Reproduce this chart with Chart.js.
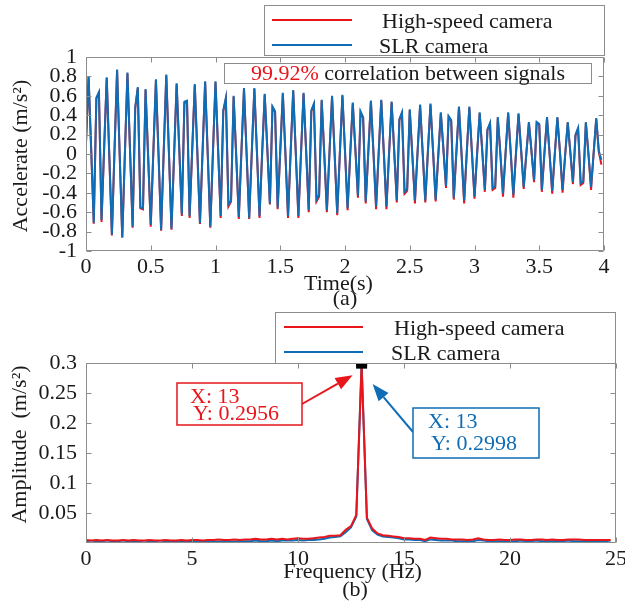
<!DOCTYPE html>
<html>
<head>
<meta charset="utf-8">
<script src="https://cdn.jsdelivr.net/npm/chart.js@4.4.1/dist/chart.umd.min.js"></script>
<style>
  html, body { margin: 0; padding: 0; background: #fff; }
  #wrap { position: relative; width: 625px; height: 601px; overflow: hidden; }
  canvas { position: absolute; left: 0; }
</style>
</head>
<body>
<div id="wrap">
  <canvas id="timeChart" width="625" height="310" style="top:0"></canvas>
  <canvas id="freqChart" width="625" height="291" style="top:310px"></canvas>
</div>
<script>
// ---- data -------------------------------------------------------------
const SERIES_NAMES = ['High-speed camera', 'SLR camera'];

// acceleration samples, 50 Hz, starting at t = 0 s
const SAMPLE_INTERVAL = 0.02;
const highSpeedAccel = [
  0.12, 0.79, 0.05, -0.72, 0.57, 0.63, -0.70, 0.06, 0.78, -0.02,
  -0.84, 0.03, 0.86, 0.00, -0.86, -0.01, 0.83, 0.04, -0.76, 0.47,
  0.68, -0.56, -0.57, 0.66, -0.03, -0.75, 0.02, 0.76, 0.00, -0.79,
  0.02, 0.81, 0.03, -0.78, -0.02, 0.72, 0.06, -0.64, 0.53, 0.54,
  -0.66, 0.04, 0.71, 0.01, -0.72, 0.02, 0.74, 0.00, -0.76, 0.01,
  0.74, 0.05, -0.66, 0.44, 0.57, -0.54, -0.49, 0.59, -0.02, -0.67,
  0.02, 0.67, 0.01, -0.67, 0.01, 0.67, 0.02, -0.66, 0.00, 0.61,
  0.06, -0.52, 0.48, 0.43, -0.57, 0.03, 0.62, 0.00, -0.66, 0.01,
  0.65, 0.01, -0.66, 0.00, 0.62, 0.03, -0.60, 0.44, 0.51, -0.49,
  -0.44, 0.55, 0.00, -0.60, 0.01, 0.59, 0.00, -0.63, 0.00, 0.60,
  0.03, -0.58, -0.01, 0.52, 0.05, -0.45, 0.43, 0.37, -0.51, 0.02,
  0.54, 0.01, -0.57, 0.01, 0.55, 0.01, -0.57, 0.00, 0.53, 0.03,
  -0.50, 0.35, 0.42, -0.41, -0.38, 0.45, -0.01, -0.51, 0.01, 0.50,
  0.01, -0.50, 0.02, 0.51, 0.03, -0.49, -0.02, 0.42, 0.05, -0.35,
  0.38, 0.34, -0.47, 0.02, 0.48, 0.00, -0.51, 0.01, 0.48, 0.02,
  -0.46, 0.00, 0.42, 0.03, -0.39, 0.25, 0.31, -0.37, -0.35, 0.37,
  0.00, -0.44, 0.01, 0.42, 0.01, -0.45, 0.00, 0.41, 0.04, -0.36,
  0.00, 0.32, 0.03, -0.29, 0.32, 0.30, -0.39, 0.01, 0.37, 0.00,
  -0.41, 0.00, 0.37, 0.02, -0.40, -0.01, 0.32, 0.02, -0.31, 0.19,
  0.26, -0.32, -0.30, 0.32, 0.00, -0.37, 0.01, 0.36, 0.02, -0.11
];
const slrAccel = [
  0.12, 0.80, 0.05, -0.71, 0.58, 0.64, -0.68, 0.06, 0.79, -0.02,
  -0.83, 0.03, 0.87, 0.00, -0.86, -0.01, 0.84, 0.04, -0.75, 0.48,
  0.69, -0.55, -0.56, 0.67, -0.03, -0.73, 0.02, 0.77, 0.00, -0.78,
  0.02, 0.82, 0.03, -0.77, -0.02, 0.73, 0.06, -0.62, 0.54, 0.55,
  -0.64, 0.04, 0.72, 0.01, -0.71, 0.02, 0.75, 0.00, -0.75, 0.01,
  0.75, 0.05, -0.64, 0.45, 0.58, -0.52, -0.48, 0.60, -0.02, -0.65,
  0.02, 0.68, 0.01, -0.66, 0.01, 0.68, 0.02, -0.64, 0.00, 0.62,
  0.06, -0.51, 0.49, 0.44, -0.55, 0.03, 0.63, 0.00, -0.64, 0.01,
  0.66, 0.01, -0.64, 0.00, 0.63, 0.03, -0.58, 0.45, 0.52, -0.47,
  -0.42, 0.56, 0.00, -0.58, 0.01, 0.60, 0.00, -0.61, 0.00, 0.61,
  0.03, -0.56, -0.01, 0.53, 0.05, -0.43, 0.44, 0.38, -0.49, 0.02,
  0.55, 0.01, -0.54, 0.01, 0.56, 0.01, -0.54, 0.00, 0.54, 0.03,
  -0.48, 0.36, 0.43, -0.39, -0.36, 0.46, -0.01, -0.48, 0.01, 0.51,
  0.01, -0.48, 0.02, 0.52, 0.03, -0.47, -0.02, 0.43, 0.05, -0.33,
  0.39, 0.35, -0.45, 0.02, 0.49, 0.00, -0.48, 0.01, 0.49, 0.02,
  -0.44, 0.00, 0.43, 0.03, -0.37, 0.25, 0.32, -0.35, -0.33, 0.38,
  0.00, -0.41, 0.01, 0.43, 0.01, -0.42, 0.00, 0.42, 0.04, -0.34,
  0.00, 0.33, 0.03, -0.27, 0.33, 0.31, -0.37, 0.01, 0.38, 0.00,
  -0.38, 0.00, 0.38, 0.02, -0.37, -0.01, 0.33, 0.02, -0.29, 0.20,
  0.27, -0.30, -0.28, 0.33, 0.00, -0.34, 0.01, 0.37, 0.03, -0.06
];
const timeTicks = [0, 0.5, 1, 1.5, 2, 2.5, 3, 3.5, 4];
const accelTicks = [-1, -0.8, -0.6, -0.4, -0.2, 0, 0.2, 0.4, 0.6, 0.8, 1];
const CORRELATION_TEXT = ['99.92%', ' correlation between signals'];

// single-sided amplitude spectrum, 0.25 Hz bins starting at 0 Hz
const FREQ_STEP = 0.25;
const highSpeedAmp = [
  0.005, 0.004, 0.005, 0.004, 0.005, 0.004, 0.004, 0.005, 0.004, 0.005,
  0.004, 0.004, 0.005, 0.004, 0.004, 0.005, 0.004, 0.004, 0.005, 0.004,
  0.005, 0.005, 0.004, 0.005, 0.005, 0.006, 0.005, 0.005, 0.006, 0.005,
  0.006, 0.006, 0.007, 0.006, 0.006, 0.007, 0.006, 0.007, 0.006, 0.007,
  0.008, 0.007, 0.007, 0.008, 0.009, 0.010, 0.012, 0.012, 0.013, 0.022,
  0.028, 0.047, 0.2956, 0.042, 0.024, 0.016, 0.013, 0.012, 0.011, 0.010,
  0.008, 0.008, 0.007, 0.007, 0.005, 0.009, 0.008, 0.007, 0.007, 0.006,
  0.006, 0.006, 0.005, 0.006, 0.008, 0.006, 0.005, 0.005, 0.006, 0.005,
  0.005, 0.006, 0.006, 0.005, 0.005, 0.006, 0.006, 0.005, 0.006, 0.005,
  0.005, 0.006, 0.006, 0.006, 0.005, 0.005, 0.005, 0.005, 0.005, 0.005
];
const slrAmp = [
  0.002, 0.001, 0.002, 0.002, 0.001, 0.002, 0.002, 0.001, 0.002, 0.002,
  0.002, 0.001, 0.002, 0.002, 0.001, 0.002, 0.002, 0.002, 0.003, 0.002,
  0.002, 0.003, 0.002, 0.003, 0.003, 0.002, 0.003, 0.003, 0.002, 0.003,
  0.003, 0.003, 0.004, 0.003, 0.003, 0.004, 0.003, 0.004, 0.004, 0.004,
  0.005, 0.004, 0.005, 0.005, 0.006, 0.007, 0.009, 0.010, 0.011, 0.018,
  0.026, 0.044, 0.2998, 0.040, 0.021, 0.014, 0.011, 0.010, 0.009, 0.008,
  0.006, 0.006, 0.005, 0.005, 0.003, 0.006, 0.005, 0.004, 0.004, 0.004,
  0.003, 0.003, 0.003, 0.003, 0.005, 0.004, 0.003, 0.003, 0.003, 0.003,
  0.003, 0.003, 0.004, 0.003, 0.003, 0.004, 0.003, 0.003, 0.003, 0.003,
  0.003, 0.004, 0.003, 0.003, 0.003, 0.003, 0.003, 0.003, 0.002, 0.001
];
const freqTicks = [0, 5, 10, 15, 20, 25];
const ampTicks = [0.05, 0.1, 0.15, 0.2, 0.25, 0.3];
// data tips at the spectral peak of each series
const peakTips = [
  { series: 0, x: 13, y: 0.2956 },
  { series: 1, x: 13, y: 0.2998 }
];

// ---- styling ----------------------------------------------------------
const RED = '#e8151b';
const BLUE = '#0f6db5';
const FRAME = '#8c8c8c';
const INK = '#1a1a1a';
const FAMILY = '"Liberation Serif", "Times New Roman", serif';
const FONT = '22px ' + FAMILY;
const tickFont = { family: FAMILY, size: 22 };

const fmt = v => String(+Number(v).toFixed(3));
const asPoints = (arr, step) => arr.map((v, i) => ({ x: i * step, y: v }));

function frameAndTicks(chart, xt, yt) {
  const { ctx, chartArea: a, scales: { x, y } } = chart;
  const L = Math.round(a.left) + 0.5, R = Math.round(a.right) - 0.5;
  const T = Math.round(a.top) + 0.5, B = Math.round(a.bottom) - 0.5;
  const len = 5;
  ctx.save();
  ctx.strokeStyle = FRAME;
  ctx.lineWidth = 1;
  ctx.beginPath();
  ctx.rect(L, T, R - L, B - T);
  xt.forEach(v => {
    const px = Math.round(x.getPixelForValue(v)) + 0.5;
    ctx.moveTo(px, B); ctx.lineTo(px, B - len);
    ctx.moveTo(px, T); ctx.lineTo(px, T + len);
  });
  yt.forEach(v => {
    const py = Math.round(y.getPixelForValue(v)) + 0.5;
    ctx.moveTo(L, py); ctx.lineTo(L + len, py);
    ctx.moveTo(R, py); ctx.lineTo(R - len, py);
  });
  ctx.stroke();
  ctx.restore();
}

function legendBox(ctx, box, rows) {
  ctx.save();
  ctx.fillStyle = '#fff';
  ctx.fillRect(box.x0, box.y0, box.x1 - box.x0, box.y1 - box.y0);
  ctx.strokeStyle = FRAME;
  ctx.lineWidth = 1;
  ctx.strokeRect(box.x0 + 0.5, box.y0 + 0.5, box.x1 - box.x0 - 1, box.y1 - box.y0 - 1);
  ctx.font = FONT;
  ctx.textBaseline = 'alphabetic';
  ctx.textAlign = 'left';
  rows.forEach(r => {
    ctx.strokeStyle = r.color;
    ctx.lineWidth = 2;
    ctx.beginPath();
    ctx.moveTo(r.lx0, r.ly); ctx.lineTo(r.lx1, r.ly);
    ctx.stroke();
    ctx.fillStyle = INK;
    ctx.fillText(r.text, r.tx, r.ty);
  });
  ctx.restore();
}

function yTitle(ctx, text, cx, cy) {
  ctx.save();
  ctx.translate(cx, cy);
  ctx.rotate(-Math.PI / 2);
  ctx.font = FONT;
  ctx.fillStyle = INK;
  ctx.textAlign = 'center';
  ctx.textBaseline = 'alphabetic';
  ctx.fillText(text, 0, 0);
  ctx.restore();
}

function centeredText(ctx, text, cx, by) {
  ctx.save();
  ctx.font = FONT;
  ctx.fillStyle = INK;
  ctx.textAlign = 'center';
  ctx.textBaseline = 'alphabetic';
  ctx.fillText(text, cx, by);
  ctx.restore();
}

function arrow(ctx, x0, y0, x1, y1, color) {
  const headLen = 17, headW = 13;
  const ang = Math.atan2(y1 - y0, x1 - x0);
  const bx = x1 - headLen * Math.cos(ang), by = y1 - headLen * Math.sin(ang);
  ctx.save();
  ctx.strokeStyle = color;
  ctx.fillStyle = color;
  ctx.lineWidth = 2;
  ctx.beginPath();
  ctx.moveTo(x0, y0); ctx.lineTo(bx, by);
  ctx.stroke();
  ctx.beginPath();
  ctx.moveTo(x1, y1);
  ctx.lineTo(bx + headW / 2 * Math.sin(ang), by - headW / 2 * Math.cos(ang));
  ctx.lineTo(bx - headW / 2 * Math.sin(ang), by + headW / 2 * Math.cos(ang));
  ctx.closePath();
  ctx.fill();
  ctx.restore();
}

function tipBox(ctx, box, color, lines) {
  ctx.save();
  ctx.fillStyle = '#fff';
  ctx.fillRect(box.x0, box.y0, box.x1 - box.x0, box.y1 - box.y0);
  ctx.strokeStyle = color;
  ctx.lineWidth = 1.5;
  ctx.strokeRect(box.x0, box.y0, box.x1 - box.x0, box.y1 - box.y0);
  ctx.font = FONT;
  ctx.fillStyle = color;
  ctx.textAlign = 'left';
  ctx.textBaseline = 'alphabetic';
  lines.forEach(l => ctx.fillText(l.text, l.x, l.y));
  ctx.restore();
}

// ---- (a) time history -------------------------------------------------
const timeDecor = {
  id: 'timeDecor',
  afterDatasetsDraw(chart) {
    const ctx = chart.ctx;
    frameAndTicks(chart, timeTicks, accelTicks);

    // correlation note
    ctx.save();
    const nb = { x0: 224, y0: 63, x1: 592, y1: 84 };
    ctx.fillStyle = '#fff';
    ctx.fillRect(nb.x0, nb.y0, nb.x1 - nb.x0, nb.y1 - nb.y0);
    ctx.strokeStyle = FRAME;
    ctx.lineWidth = 1;
    ctx.strokeRect(nb.x0 + 0.5, nb.y0 + 0.5, nb.x1 - nb.x0 - 1, nb.y1 - nb.y0 - 1);
    ctx.font = FONT;
    ctx.textBaseline = 'alphabetic';
    ctx.textAlign = 'left';
    const w0 = ctx.measureText(CORRELATION_TEXT[0]).width;
    const w1 = ctx.measureText(CORRELATION_TEXT[1]).width;
    let tx = (nb.x0 + nb.x1) / 2 - (w0 + w1) / 2;
    ctx.fillStyle = RED;
    ctx.fillText(CORRELATION_TEXT[0], tx, 80);
    ctx.fillStyle = INK;
    ctx.fillText(CORRELATION_TEXT[1], tx + w0, 80);
    ctx.restore();

    legendBox(ctx, { x0: 264, y0: 5, x1: 605, y1: 56 }, [
      { color: RED, lx0: 272, lx1: 352, ly: 20, text: SERIES_NAMES[0], tx: 382, ty: 27.5 },
      { color: BLUE, lx0: 272, lx1: 352, ly: 45, text: SERIES_NAMES[1], tx: 379, ty: 53 }
    ]);

    yTitle(ctx, 'Accelerate (m/s²)', 26.5, 156);
    centeredText(ctx, 'Time(s)', 338.5, 290);
    centeredText(ctx, '(a)', 345, 305);
  }
};

new Chart(document.getElementById('timeChart'), {
  type: 'line',
  data: {
    datasets: [
      { label: SERIES_NAMES[0], data: asPoints(highSpeedAccel, SAMPLE_INTERVAL),
        borderColor: RED, borderWidth: 2, pointRadius: 0, tension: 0, order: 1 },
      { label: SERIES_NAMES[1], data: asPoints(slrAccel, SAMPLE_INTERVAL),
        borderColor: BLUE, borderWidth: 2, pointRadius: 0, tension: 0, order: 0 }
    ]
  },
  options: {
    responsive: false,
    animation: false,
    events: [],
    layout: { padding: { top: 57, right: 21, left: 0, bottom: 0 } },
    plugins: { legend: { display: false }, tooltip: { enabled: false } },
    scales: {
      x: {
        type: 'linear', min: 0, max: 4,
        afterBuildTicks: s => { s.ticks = timeTicks.map(v => ({ value: v })); },
        afterFit: s => { s.height = 59; s.paddingLeft = 0; s.paddingRight = 0; },
        grid: { display: false, drawTicks: false },
        border: { display: false },
        ticks: { font: tickFont, color: INK, padding: 3, maxRotation: 0, autoSkip: false, callback: fmt }
      },
      y: {
        type: 'linear', min: -1, max: 1,
        afterBuildTicks: s => { s.ticks = accelTicks.map(v => ({ value: v })); },
        afterFit: s => { s.width = 86; s.paddingTop = 0; s.paddingBottom = 0; },
        grid: { display: false, drawTicks: false },
        border: { display: false },
        ticks: { font: tickFont, color: INK, padding: 9, autoSkip: false, callback: fmt }
      }
    }
  },
  plugins: [timeDecor]
});

// ---- (b) amplitude spectrum -------------------------------------------
const freqDecor = {
  id: 'freqDecor',
  afterDatasetsDraw(chart) {
    const ctx = chart.ctx;
    const { x, y } = chart.scales;
    frameAndTicks(chart, freqTicks, ampTicks);

    // data tip markers
    ctx.save();
    ctx.fillStyle = '#000';
    peakTips.forEach(p => {
      const px = x.getPixelForValue(p.x), py = y.getPixelForValue(p.y);
      ctx.fillRect(px - 5.5, py - 3, 11, 6);
    });
    ctx.restore();

    legendBox(ctx, { x0: 275, y0: 2, x1: 616, y1: 54 }, [
      { color: RED, lx0: 284, lx1: 363, ly: 17, text: SERIES_NAMES[0], tx: 394, ty: 25 },
      { color: BLUE, lx0: 284, lx1: 363, ly: 42, text: SERIES_NAMES[1], tx: 391, ty: 50 }
    ]);

    const [tr, tb] = peakTips;
    const pr = { x: x.getPixelForValue(tr.x), y: y.getPixelForValue(tr.y) };
    const pb = { x: x.getPixelForValue(tb.x), y: y.getPixelForValue(tb.y) };

    arrow(ctx, 302, 94, pr.x - 9, pr.y + 9.5, RED);
    tipBox(ctx, { x0: 177, y0: 73, x1: 302, y1: 115 }, RED, [
      { text: 'X: ' + fmt(tr.x), x: 190, y: 93.3 },
      { text: 'Y: ' + tr.y.toFixed(4), x: 193, y: 110 }
    ]);

    arrow(ctx, 413, 122, pb.x + 11, pb.y + 21, BLUE);
    tipBox(ctx, { x0: 413, y0: 98, x1: 539, y1: 148 }, BLUE, [
      { text: 'X: ' + fmt(tb.x), x: 428, y: 118.3 },
      { text: 'Y: ' + tb.y.toFixed(4), x: 431, y: 140 }
    ]);

    yTitle(ctx, 'Amplitude  (m/s²)', 25.5, 134.5);
    centeredText(ctx, 'Frequency (Hz)', 352.5, 268.3);
    centeredText(ctx, '(b)', 355, 286);
  }
};

new Chart(document.getElementById('freqChart'), {
  type: 'line',
  data: {
    datasets: [
      { label: SERIES_NAMES[0], data: asPoints(highSpeedAmp, FREQ_STEP),
        borderColor: RED, borderWidth: 2, pointRadius: 0, tension: 0, order: 0 },
      { label: SERIES_NAMES[1], data: asPoints(slrAmp, FREQ_STEP),
        borderColor: BLUE, borderWidth: 2, pointRadius: 0, tension: 0, order: 1 }
    ]
  },
  options: {
    responsive: false,
    animation: false,
    events: [],
    layout: { padding: { top: 53, right: 9, left: 0, bottom: 0 } },
    plugins: { legend: { display: false }, tooltip: { enabled: false } },
    scales: {
      x: {
        type: 'linear', min: 0, max: 25,
        afterBuildTicks: s => { s.ticks = freqTicks.map(v => ({ value: v })); },
        afterFit: s => { s.height = 58; s.paddingLeft = 0; s.paddingRight = 0; },
        grid: { display: false, drawTicks: false },
        border: { display: false },
        ticks: { font: tickFont, color: INK, padding: 3, maxRotation: 0, autoSkip: false, callback: fmt }
      },
      y: {
        type: 'linear', min: 0, max: 0.3,
        afterBuildTicks: s => { s.ticks = ampTicks.map(v => ({ value: v })); },
        afterFit: s => { s.width = 86; s.paddingTop = 0; s.paddingBottom = 0; },
        grid: { display: false, drawTicks: false },
        border: { display: false },
        ticks: { font: tickFont, color: INK, padding: 9, autoSkip: false, callback: fmt }
      }
    }
  },
  plugins: [freqDecor]
});
</script>
</body>
</html>
